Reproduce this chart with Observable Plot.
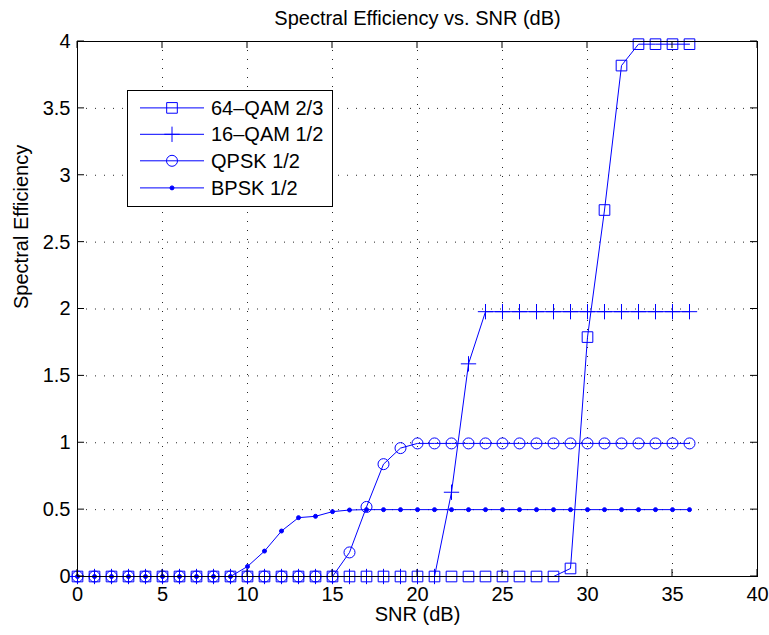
<!DOCTYPE html>
<html><head><meta charset="utf-8">
<script src="https://cdn.jsdelivr.net/npm/d3@7"></script>
<script src="https://cdn.jsdelivr.net/npm/@observablehq/plot@0.6"></script>
<style>html,body{margin:0;padding:0;background:#fff}</style>
</head><body><div id="chart"></div>
<script>
// ---- data ----
const snr = [0,1,2,3,4,5,6,7,8,9,10,11,12,13,14,15,16,17,18,19,20,21,22,23,24,25,26,27,28,29,30,31,32,33,34,35,36];
const qam64 = [0,0,0,0,0,0,0,0,0,0,0,0,0,0,0,0,0,0,0,0,0,0,0,0,0,0,0,0,0,0.06,1.79,2.74,3.82,3.98,3.98,3.98,3.98];
const qam16 = [0,0,0,0,0,0,0,0,0,0,0,0,0,0,0,0,0,0,0,0,0,0,0.63,1.59,1.98,1.98,1.98,1.98,1.98,1.98,1.98,1.98,1.98,1.98,1.98,1.98,1.98];
const qpsk  = [0,0,0,0,0,0,0,0,0,0,0,0,0,0,0,0,0.18,0.52,0.84,0.96,0.995,0.995,0.995,0.995,0.995,0.995,0.995,0.995,0.995,0.995,0.995,0.995,0.995,0.995,0.995,0.995,0.995];
const bpsk  = [0,0,0,0,0,0,0,0,0,0,0.075,0.19,0.34,0.44,0.45,0.485,0.497,0.5,0.5,0.5,0.5,0.5,0.5,0.5,0.5,0.5,0.5,0.5,0.5,0.5,0.5,0.5,0.5,0.5,0.5,0.5,0.5];
const seriesNames = ["64\u2013QAM 2/3", "16\u2013QAM 1/2", "QPSK 1/2", "BPSK 1/2"];
const xTicks = [0,5,10,15,20,25,30,35,40];
const yTicks = [0,0.5,1,1.5,2,2.5,3,3.5,4];
const titleText = "Spectral Efficiency vs. SNR (dB)";
const xLabel = "SNR (dB)";
const yLabel = "Spectral Efficiency";

// ---- build table ----
const seriesValues = [qam64, qam16, qpsk, bpsk];
const styles = [
  {symbol: "square", r: 6, fill: "none"},
  {symbol: "plus", r: 5, fill: "none"},
  {symbol: "circle", r: 5.5, fill: "none"},
  {symbol: "circle", r: 2, fill: "#0000ff"}
];
const rows = [];
seriesValues.forEach((vals, i) => vals.forEach((v, j) => rows.push({snr: snr[j], se: v, series: seriesNames[i]})));

const blue = "#0000ff";
const font = "'Liberation Sans', Arial, Helvetica, sans-serif";

const marks = [
  Plot.gridX(xTicks.filter(d => d > 0 && d < 40), {stroke: "#000", strokeOpacity: 0.85, strokeDasharray: "1,8"}),
  Plot.gridY(yTicks.filter(d => d > 0 && d < 4), {stroke: "#000", strokeOpacity: 0.85, strokeDasharray: "1,8"}),
  Plot.axisX(xTicks, {tickSize: 0, tickPadding: 10, fontSize: 20, label: null, tickFormat: d => String(d)}),
  Plot.axisY(yTicks, {tickSize: 0, tickPadding: 7, fontSize: 20, label: null, tickFormat: d => String(d)}),
];
seriesNames.forEach((name, i) => {
  const data = rows.filter(d => d.series === name);
  marks.push(Plot.line(data, {x: "snr", y: "se", stroke: blue, strokeWidth: 1}));
  marks.push(Plot.dot(data, {x: "snr", y: "se", symbol: styles[i].symbol, r: styles[i].r, stroke: blue, fill: styles[i].fill, strokeWidth: 1}));
});
marks.push(Plot.frame({stroke: "#000", strokeWidth: 1}));
marks.push(Plot.text([titleText], {frameAnchor: "top", lineAnchor: "top", dy: -31, fontSize: 20, fill: "#000"}));
marks.push(Plot.text([xLabel], {frameAnchor: "bottom", lineAnchor: "top", dy: 30, fontSize: 20, fill: "#000"}));
marks.push(Plot.text([yLabel], {frameAnchor: "left", lineAnchor: "top", rotate: -90, dx: -63.5, fontSize: 20, fill: "#000"}));

const chart = Plot.plot({
  width: 769,
  height: 635,
  marginLeft: 77,
  marginRight: 12,
  marginTop: 41,
  marginBottom: 59,
  x: {domain: [0, 40], ticks: xTicks},
  y: {domain: [0, 4], ticks: yTicks},
  style: {fontFamily: font, fontSize: "20px", background: "#fff", color: "#000", overflow: "visible"},
  marks
});
document.getElementById("chart").appendChild(chart);

// ---- inward ticks (MATLAB style) from the plot's own scales ----
const sx = chart.scale("x"), sy = chart.scale("y");
const svg = d3.select(chart);
const x0 = sx.apply(0), x1 = sx.apply(40), y0 = sy.apply(0), y1 = sy.apply(4);
const tk = 7;
const g = svg.append("g").attr("stroke", "#000").attr("stroke-width", 1);
xTicks.forEach(t => {
  const x = sx.apply(t);
  g.append("line").attr("x1", x).attr("x2", x).attr("y1", y0).attr("y2", y0 - tk);
  g.append("line").attr("x1", x).attr("x2", x).attr("y1", y1).attr("y2", y1 + tk);
});
yTicks.forEach(t => {
  const y = sy.apply(t);
  g.append("line").attr("x1", x0).attr("x2", x0 + tk).attr("y1", y).attr("y2", y);
  g.append("line").attr("x1", x1).attr("x2", x1 - tk).attr("y1", y).attr("y2", y);
});

// ---- legend ----
const lg = svg.append("g").attr("font-family", font).attr("font-size", 20).attr("text-anchor", "start");
lg.append("rect").attr("x", 127.5).attr("y", 90.5).attr("width", 205).attr("height", 116)
  .attr("fill", "#fff").attr("stroke", "#000").attr("stroke-width", 1);
const symMap = {square: d3.symbolSquare, plus: d3.symbolPlus, circle: d3.symbolCircle};
const rowY = [107.9, 134.3, 160.8, 187.9];
seriesNames.forEach((name, i) => {
  const y = rowY[i];
  lg.append("line").attr("x1", 140).attr("x2", 204).attr("y1", y).attr("y2", y).attr("stroke", blue).attr("stroke-width", 1);
  const s = styles[i];
  lg.append("path").attr("transform", `translate(172,${y})`)
    .attr("d", d3.symbol(symMap[s.symbol], Math.PI * s.r * s.r)())
    .attr("fill", s.fill).attr("stroke", blue).attr("stroke-width", 1);
  lg.append("text").attr("x", 211).attr("y", y).attr("dy", "0.35em").attr("text-anchor", "start").attr("fill", "#000").text(name);
});
</script>
</body></html>
